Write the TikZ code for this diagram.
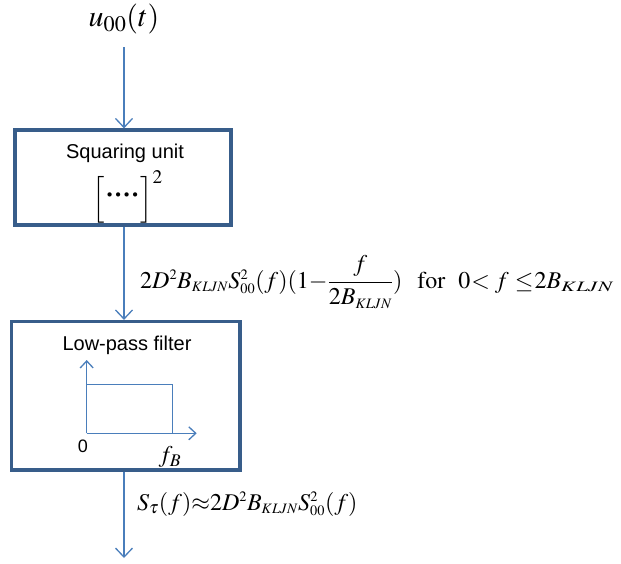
\documentclass[tikz,border=0pt]{standalone}
\usepackage{mathptmx}
\usepackage{graphicx}
\usepackage[no-math]{fontspec}
\setmainfont{Liberation Sans}
\newfontfamily\serifdots{Liberation Serif}
\usetikzlibrary{arrows.meta}
\definecolor{boxblue}{HTML}{385D8A}
\definecolor{lineblue}{HTML}{4A7EBB}
\newcommand{\kl}{{\scriptscriptstyle KLJN}}
\newcommand{\klwide}{\scalebox{1.45}[1]{$\scriptscriptstyle KLJN$}}
\newcommand{\oo}{{\scriptscriptstyle 00}}
\newcommand{\sq}{{\scriptscriptstyle 2}}
\newcommand{\dt}{\makebox[8.5pt]{·}}
\tikzset{
  blockbox/.style={draw=boxblue, line width=3.2pt, minimum width=#1, inner sep=0pt},
  conn/.style={draw=lineblue, line width=1.3pt, -{Straight Barb[length=9pt,width=17pt,line width=1.3pt]}},
  axis/.style={draw=lineblue, line width=1.3pt, -{Straight Barb[length=7pt,width=13pt,line width=1.3pt]}},
  plotline/.style={draw=lineblue, line width=1.3pt},
  lbl/.style={font=\fontsize{20}{24}\selectfont, inner sep=0pt},
  mathlbl/.style={font=\fontsize{24}{28}\selectfont, inner sep=0pt},
}
\begin{document}
\begin{tikzpicture}[x=1pt,y=-1pt]
\useasboundingbox (0,0) rectangle (621,563);
% source
\node[font=\fontsize{30}{34}\selectfont, inner sep=0pt] (src) at (124,19) {$u_{00}(t)$};
% boxes
\node[blockbox=216pt, minimum height=95pt] (sq) at (123,177.5) {};
\node[blockbox=228.5pt, minimum height=148.5pt] (lp) at (125.75,395.75) {};
% box contents
\node[lbl] (sqt) at (125,153) {Squaring unit};
\node[font=\fontsize{26}{30}\selectfont, inner sep=0pt, anchor=west] (brk) at (92,197)
  {$\Bigl[\mbox{\serifdots\bfseries\raisebox{2.5pt}{\hspace{1pt}\dt\dt\dt\dt\hspace{1pt}}}\Bigr]^2$};
\node[lbl] (lpt) at (127,345) {Low-pass filter};
\coordinate (o) at (86.7,433.3);
\coordinate (ytop) at (86.7,360);
\coordinate (xr) at (196.7,433.3);
\coordinate (rtop) at (172.7,384.3);
\draw[axis] (o) -- (ytop);
\draw[axis] (o) -- (xr);
\draw[plotline] (o |- rtop) -- (rtop) -- (rtop |- o);
\node[font=\fontsize{18}{22}\selectfont, inner sep=0pt] (zero) at (83,446) {0};
\node[mathlbl] (fb) at (170,457) {$f_B$};
% connectors
\coordinate (out) at (124,558);
\draw[conn] ([yshift=-13pt]src.south) -- (src.south |- sq.north);
\draw[conn] (sq.south -| src.south) -- (src.south |- lp.north);
\draw[conn] (lp.south -| src.south) -- (out);
% formulas
\node[mathlbl, anchor=base west] (f1) at (140,288)
  {$2D^\sq B_\kl S_\oo^\sq(f)(1{-}{\displaystyle\frac{f}{2B_\kl}})\mbox{\hspace{15pt}}\mathrm{for}\mbox{\hspace{13pt}}0\mbox{\hspace{1pt}}{<}\mbox{\hspace{5pt}}f\mbox{\hspace{6pt}}{\le}\mbox{\hspace{1pt}}2B_{\klwide}$};
\node[mathlbl, anchor=base west] (f2) at (137,510)
  {$S_\tau(f){\approx}2D^\sq B_\kl S_\oo^\sq(f)$};
\end{tikzpicture}
\end{document}
